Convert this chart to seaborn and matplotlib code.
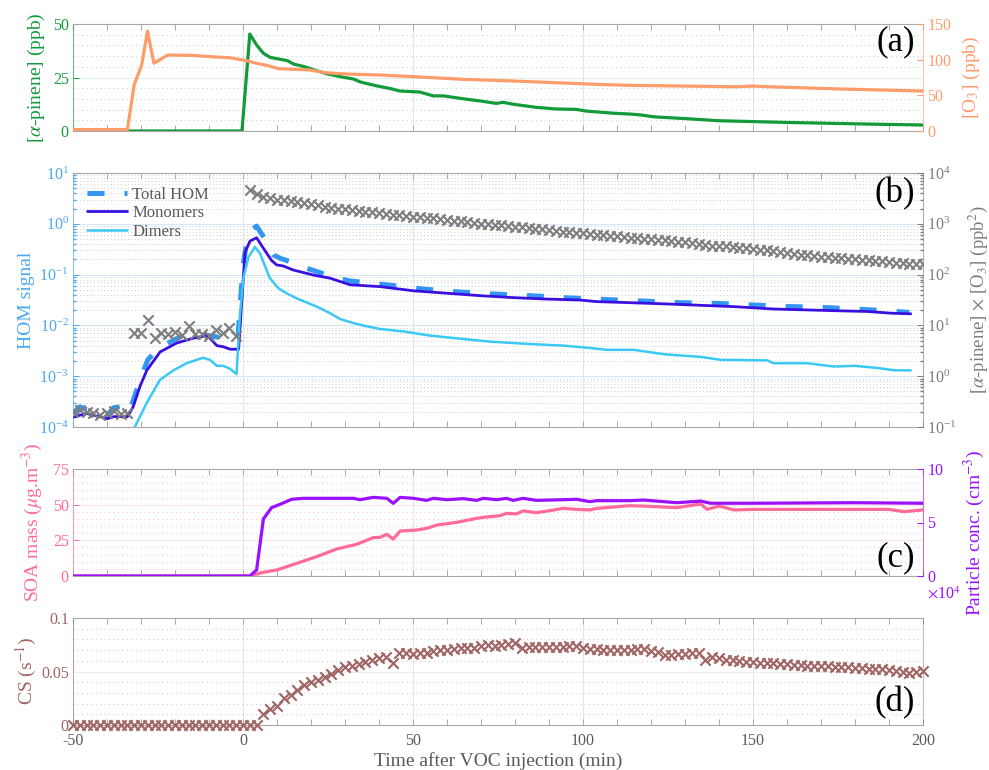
import numpy as np
import matplotlib
matplotlib.use("Agg")
import matplotlib.pyplot as plt
import seaborn as sns
from matplotlib.ticker import MultipleLocator, FixedLocator, LogLocator, NullFormatter

# ---------------- data ----------------
# (a) alpha-pinene and ozone mixing ratios
apinene_t = [-50, -0.3, 2.0, 4, 6, 8, 11, 13, 15, 18, 21, 25, 29.5, 32.5, 34.5, 39, 44, 46,
             52, 56, 59, 65, 70, 74.5, 76.5, 79.5, 86, 92, 98, 101, 109, 114, 117, 121, 130,
             140, 150, 160, 173, 185, 200]
apinene_ppb = [0, 0, 45.3, 40.2, 36.3, 34.4, 33.5, 32.9, 31.2, 30.1, 28.5, 26.6, 25.1, 24.3,
               22.9, 21.2, 19.6, 18.7, 18.2, 16.4, 16.4, 15.0, 14.0, 12.9, 13.4, 12.5, 11.1,
               10.3, 10.1, 9.3, 8.3, 7.9, 7.5, 6.6, 5.8, 4.8, 4.4, 4.0, 3.6, 3.2, 2.8]
o3_t = [-50, -34, -32, -29.8, -28.1, -26.2, -22.1, -15, -9, -4, 1, 4, 7, 10.4, 19.7, 24,
        30.5, 40, 50, 65, 79.4, 94, 104, 114, 130, 145, 150, 155, 175, 200]
o3_ppb = [2, 2, 65, 92.5, 140, 95, 106.5, 106, 104, 102.8, 98.6, 94.9, 92, 87.4, 85.5, 81.8,
          79.9, 78.5, 76.2, 72.4, 70.1, 67.3, 65.4, 64, 63, 62, 63, 62, 59, 56]

# (b) HOM signals
total_t = [-50, -48, -46, -44, -42, -40, -38, -36, -34.5, -32.5, -30.3, -28, -25, -22, -19.5,
           -16.6, -12.7, -8.7, -4.8, -1.5, 0.0, 1.0, 2.5, 4, 6, 8.9, 10.9, 12.8, 18.7, 22.6,
           26, 31.5, 41.3, 53, 62.8, 73.6, 84.4, 95.2, 106, 117.6, 128.5, 139.3, 150, 160.8,
           169.6, 180.4, 191.2, 196]
total_hom = [1.85e-4, 2.5e-4, 2.2e-4, 2.0e-4, 1.8e-4, 1.7e-4, 2.4e-4, 2.5e-4, 1.85e-4, 3.0e-4,
             8.5e-4, 2.1e-3, 3.5e-3, 4.5e-3, 5.5e-3, 6.9e-3, 6.7e-3, 6.1e-3, 5.4e-3, 5.6e-3,
             0.15, 0.4, 0.75, 0.9, 0.56, 0.245, 0.21, 0.19, 0.133, 0.11, 0.09, 0.075, 0.064,
             0.052, 0.046, 0.0415, 0.0385, 0.035, 0.0325, 0.0302, 0.028, 0.0272, 0.0252,
             0.0235, 0.0228, 0.021, 0.019, 0.018]
mono_t = [-50, -48, -46, -44, -42, -40, -38, -36, -34, -32.3, -30.3, -28.3, -24.4, -19.5,
          -14.6, -10.7, -9.7, -7.7, -5.8, -3.8, -1.3, 0.6, 2.1, 4, 6, 8.4, 9.9, 11.8, 14.8,
          20.7, 25.6, 31.5, 40.3, 50.1, 59.9, 69.7, 79.5, 89.3, 99.1, 104, 113.8, 124.8,
          144.4, 156.2, 173.8, 183.6, 190.5, 196.4]
monomers = [1.55e-4, 1.7e-4, 1.85e-4, 1.7e-4, 1.6e-4, 1.45e-4, 1.6e-4, 1.6e-4, 1.6e-4, 2.5e-4,
            6.3e-4, 1.3e-3, 3.0e-3, 4.5e-3, 5.6e-3, 6.3e-3, 5.6e-3, 4.0e-3, 3.8e-3, 3.4e-3,
            3.4e-3, 0.28, 0.46, 0.53, 0.33, 0.19, 0.155, 0.148, 0.123, 0.098, 0.085, 0.063,
            0.058, 0.048, 0.043, 0.0385, 0.0352, 0.033, 0.0316, 0.0294, 0.028, 0.0264, 0.0234,
            0.021, 0.0195, 0.0188, 0.0174, 0.0169]
dim_t = [-33.5, -31.8, -28.3, -24.4, -20.5, -16.6, -12.7, -11.7, -9.7, -7.7, -5.8, -3.8, -1.9,
         -0.9, 0.1, 1.6, 3.5, 5, 7.9, 10.4, 12.8, 15.8, 21.7, 25.6, 28.5, 31.5, 35.4, 40.3,
         47.2, 55, 64.8, 72.6, 84.4, 94.2, 102, 107, 115, 123.9, 134.6, 140.5, 154.2, 156,
         166, 173.8, 180, 186.6, 191.5, 196.4]
dimers = [5e-5, 1e-4, 3e-4, 8.5e-4, 1.3e-3, 1.8e-3, 2.2e-3, 2.3e-3, 2.1e-3, 1.6e-3, 1.6e-3,
          1.4e-3, 1.1e-3, 0.016, 0.085, 0.22, 0.35, 0.26, 0.085, 0.054, 0.043, 0.034, 0.0234,
          0.0174, 0.0134, 0.0116, 0.0099, 0.0085, 0.0076, 0.0063, 0.0054, 0.0048, 0.0043,
          0.0040, 0.0036, 0.0033, 0.0033, 0.0027, 0.0024, 0.0021, 0.00205, 0.0018, 0.0018,
          0.00155, 0.0016, 0.00145, 0.00131, 0.0013]

# 2-min sampled series: [alpha-pinene] x [O3] and condensation sink
sample_t = list(range(-50, 201, 2))
product_ppb2 = ([0.20, 0.22, 0.20, 0.19, 0.17, 0.19, 0.21, 0.18, 0.19,
                 7.2, 7.2, 12.6, 5.6, 7.2, 6.9, 7.5, 6.6, 9.8, 6.8, 6.8, 6.1, 8.1, 7.2, 8.8,
                 6.2, np.nan,
                 4630, 3800, 3420, 3200, 3000, 2880, 2750, 2640, 2520, 2420, 2300, 2180, 2080,
                 2000, 1920, 1850, 1790, 1730, 1670, 1610, 1560, 1510, 1470, 1420, 1390, 1360,
                 1330, 1300, 1240, 1200, 1160, 1110, 1080, 1040, 1010, 980, 955, 930, 900, 880,
                 855, 820, 800, 775, 750, 725, 700, 680, 665, 650, 630, 615, 600, 585, 565, 545,
                 530, 515, 505, 495, 485, 475, 460, 445, 430, 415, 400, 385, 372, 365, 358, 352,
                 340, 330, 318, 310, 300, 290, 280, 268, 255, 245, 238, 232, 227, 222, 217, 210,
                 204, 200, 195, 192, 188, 183, 176, 170, 166, 162, 165, 163])
cs = ([0.0] * 28 +
      [0.0103, 0.0146, 0.018, 0.025, 0.028, 0.0327, 0.0374, 0.0405, 0.042, 0.045, 0.0477,
       0.0514, 0.054, 0.055, 0.0567, 0.059, 0.061, 0.0623, 0.064, 0.0576, 0.067, 0.067,
       0.0665, 0.067, 0.067, 0.069, 0.070, 0.0705, 0.071, 0.0717, 0.0717, 0.072, 0.0735,
       0.0745, 0.0735, 0.0748, 0.0755, 0.0763, 0.0717, 0.0725, 0.073, 0.0732, 0.0732, 0.073,
       0.0732, 0.0735, 0.0738, 0.0717, 0.071, 0.0707, 0.0705, 0.0705, 0.0705, 0.070, 0.070,
       0.0707, 0.0712, 0.0695, 0.0685, 0.0655, 0.0658, 0.066, 0.0665, 0.067, 0.0676, 0.0607,
       0.064, 0.0625, 0.0607, 0.061, 0.0598, 0.059, 0.0585, 0.0582, 0.0578, 0.0575, 0.057,
       0.0566, 0.0562, 0.0558, 0.0555, 0.0551, 0.055, 0.0548, 0.0545, 0.0542, 0.054, 0.0537,
       0.0533, 0.0528, 0.0522, 0.052, 0.0515, 0.0505, 0.0498, 0.049, 0.0495, 0.0508])

# (c) SOA mass and particle number (x 1e4 cm-3)
soa_t = [-50, 2, 6, 9.9, 15.8, 21.7, 27.5, 33.4, 38.3, 40.3, 42.3, 44.2, 46.2, 51, 54, 57,
         62.8, 68.7, 70.7, 75.6, 77.5, 80.4, 82.4, 86.3, 90.3, 94.2, 98.1, 102, 104, 113.8,
         117.8, 127.6, 134.6, 136.5, 140, 144.4, 150, 170, 190, 194.5, 200]
soa_mass = [0, 0, 2.6, 4.2, 8.9, 13.6, 18.9, 22.2, 26.9, 27.1, 29.2, 25.9, 31.5, 32.2, 33.4,
            35.7, 37.6, 40.4, 41.1, 42.3, 43.9, 43.5, 45.6, 44.4, 45.8, 47.4, 46.7, 46.3, 47.4,
            49.3, 49.0, 47.9, 50.5, 46.7, 49.0, 46.3, 46.7, 46.7, 46.7, 45.1, 46.3]
part_t = [-50, 2, 4, 6, 8.4, 10.9, 14.3, 17.7, 25.6, 32.5, 34.4, 38.3, 42.3, 44.2, 46.2, 50.1,
          54, 56, 60, 64.8, 68.7, 70.7, 74.6, 77.5, 79.5, 82.4, 86.3, 94.2, 98.1, 102, 104,
          113.8, 117.8, 127.6, 134.6, 137.5, 150, 180, 200]
part_conc = [0, 0, 0.56, 5.33, 6.39, 6.7, 7.17, 7.26, 7.26, 7.26, 7.13, 7.35, 7.26, 6.79, 7.35,
             7.26, 7.07, 7.26, 7.13, 7.23, 7.07, 7.26, 7.13, 7.26, 7.07, 7.26, 7.07, 7.13,
             7.17, 6.95, 7.04, 7.04, 7.1, 6.85, 7.0, 6.8, 6.8, 6.85, 6.8]

x_ticks = [-50, 0, 50, 100, 150, 200]

# ---------------- style ----------------
sns.set_theme(style="white")
plt.rcParams["font.family"] = ["Liberation Serif", "DejaVu Serif"]
plt.rcParams["mathtext.fontset"] = "stix"
plt.rcParams["axes.unicode_minus"] = False

C_GREEN = "#139a3a"
C_ORANGE = "#ff9c6b"
C_TOTAL = "#3396f2"
C_MONO = "#3a10e0"
C_DIM = "#3cc8f5"
C_HOMLAB = "#4aa8f5"
C_GREY = "#7d7d7d"
C_PINK = "#ff6b98"
C_PURPLE = "#9a10ff"
C_BROWN = "#a06464"
C_FRAME = "#a8a8a8"
C_TXT = "#5a5a5a"

TICK_FS = 11.5
LAB_FS = 14

fig = plt.figure(figsize=(9.89, 7.70), dpi=100)
L, W = 73 / 989, 850 / 989


def make_axes(top_px, bot_px):
    return fig.add_axes([L, 1 - bot_px / 770, W, (bot_px - top_px) / 770])


def style_pair(ax, ax2, lcol, rcol, last=False):
    ax.set_xlim(-50, 200)
    ax.xaxis.set_major_locator(FixedLocator(x_ticks))
    ax.xaxis.set_minor_locator(MultipleLocator(10))
    ax.tick_params(axis="x", which="both", direction="in", top=True, bottom=True,
                   length=4, width=0.7, color=C_FRAME, labelbottom=last,
                   labelsize=TICK_FS, labelcolor=C_TXT, pad=6)
    ax.tick_params(axis="y", which="major", direction="in", length=4, width=0.7,
                   color=lcol, labelcolor=lcol, labelsize=TICK_FS, pad=3)
    for s in ("top", "bottom"):
        ax.spines[s].set_color(C_FRAME)
        ax.spines[s].set_linewidth(0.8)
    ax.spines["left"].set_color(lcol)
    ax.spines["left"].set_alpha(0.55)
    ax.spines["left"].set_linewidth(0.8)
    ax.spines["right"].set_visible(False)
    ax.xaxis.grid(True, which="major", color="#e4e4e4", lw=0.7)
    if ax2 is not None:
        for s in ("top", "bottom", "left"):
            ax2.spines[s].set_visible(False)
        ax2.spines["right"].set_color(rcol)
        ax2.spines["right"].set_alpha(0.6)
        ax2.spines["right"].set_linewidth(0.8)
        ax2.tick_params(axis="y", which="major", direction="in", length=4, width=0.7,
                        color=rcol, labelcolor=rcol, labelsize=TICK_FS, pad=3)
        ax2.grid(False)
    else:
        ax.spines["right"].set_visible(True)
        ax.spines["right"].set_color(lcol)
        ax.spines["right"].set_alpha(0.45)
        ax.spines["right"].set_linewidth(0.8)


def panel_letter(ax, txt, y, va):
    ax.text(0.991, y, txt, transform=ax.transAxes, ha="right", va=va,
            fontsize=25, color="black", zorder=10)


# ---------------- (a) ----------------
axa = make_axes(24, 131)
axa2 = axa.twinx()
sns.lineplot(x=apinene_t, y=apinene_ppb, ax=axa, color=C_GREEN, lw=2.3, sort=False)
sns.lineplot(x=o3_t, y=o3_ppb, ax=axa2, color=C_ORANGE, lw=2.3, sort=False)
axa.set_ylim(0, 50)
axa2.set_ylim(0, 150)
axa.set_yticks([0, 25, 50])
axa2.set_yticks([0, 50, 100, 150])
axa.yaxis.set_minor_locator(MultipleLocator(5))
axa.yaxis.grid(True, which="major", color="#dceee2", lw=0.7)
axa.yaxis.grid(True, which="minor", color="#b9dcc6", lw=0.8, ls=(0, (1, 3)))
axa.tick_params(axis="y", which="minor", length=0)
style_pair(axa, axa2, C_GREEN, C_ORANGE)
axa.set_xlabel("")
axa.set_ylabel(r"[$\alpha$-pinene] (ppb)", color=C_GREEN, fontsize=LAB_FS)
axa2.set_ylabel(r"[O$_3$] (ppb)", color=C_ORANGE, fontsize=LAB_FS)
axa.yaxis.set_label_coords(-0.031, 0.5)
axa2.yaxis.set_label_coords(1.045, 0.5)
panel_letter(axa, "(a)", 0.99, "top")

# ---------------- (b) ----------------
axb = make_axes(173, 427)
axb2 = axb.twinx()
axb.set_yscale("log")
axb2.set_yscale("log")
sns.lineplot(x=total_t, y=total_hom, ax=axb, color=C_TOTAL, lw=3.6, sort=False,
             label="Total HOM")
axb.lines[-1].set_dashes((3.4, 4.0))
sns.lineplot(x=mono_t, y=monomers, ax=axb, color=C_MONO, lw=2.0, sort=False,
             label="Monomers")
sns.lineplot(x=dim_t, y=dimers, ax=axb, color=C_DIM, lw=1.8, sort=False, label="Dimers")
sns.scatterplot(x=sample_t, y=product_ppb2, ax=axb2, marker="x", color=C_GREY, s=55,
                linewidth=1.5, zorder=3)
axb.set_ylim(1e-4, 1e1)
axb2.set_ylim(1e-1, 1e4)
for a in (axb, axb2):
    a.yaxis.set_major_locator(LogLocator(base=10, numticks=12))
    a.yaxis.set_minor_locator(LogLocator(base=10, subs=np.arange(2, 10), numticks=12))
    a.yaxis.set_minor_formatter(NullFormatter())
axb.yaxis.grid(True, which="major", color="#d6e6f7", lw=0.8)
axb.yaxis.grid(True, which="minor", color="#c9ccd2", lw=0.7, ls=(0, (1, 2.5)))
style_pair(axb, axb2, C_HOMLAB, C_GREY)
axb.tick_params(axis="y", which="minor", direction="in", length=2, color=C_HOMLAB)
axb2.tick_params(axis="y", which="minor", direction="in", length=2, color=C_GREY)
axb.set_xlabel("")
axb.set_ylabel("HOM signal", color=C_HOMLAB, fontsize=LAB_FS)
axb2.set_ylabel(r"[$\alpha$-pinene] $\times$ [O$_3$] (ppb$^2$)", color=C_GREY,
                fontsize=13.5)
axb.yaxis.set_label_coords(-0.045, 0.5)
axb2.yaxis.set_label_coords(1.051, 0.5)
leg = axb.legend(loc="upper left", bbox_to_anchor=(0.005, 0.985), frameon=False,
                 fontsize=12, handlelength=2.4, handletextpad=0.3, labelspacing=0.15,
                 borderaxespad=0.2)
for t in leg.get_texts():
    t.set_color(C_TXT)
panel_letter(axb, "(b)", 0.985, "top")

# ---------------- (c) ----------------
axc = make_axes(469, 576)
axc2 = axc.twinx()
sns.lineplot(x=soa_t, y=soa_mass, ax=axc, color=C_PINK, lw=2.3, sort=False)
sns.lineplot(x=part_t, y=part_conc, ax=axc2, color=C_PURPLE, lw=2.3, sort=False)
axc.set_ylim(0, 75)
axc2.set_ylim(0, 10)
axc.set_yticks([0, 25, 50, 75])
axc2.set_yticks([0, 5, 10])
axc.yaxis.set_minor_locator(MultipleLocator(5))
axc.yaxis.grid(True, which="major", color="#fbe3ea", lw=0.7)
axc.yaxis.grid(True, which="minor", color="#f7c6d4", lw=0.8, ls=(0, (1, 3)))
axc.tick_params(axis="y", which="minor", length=0)
style_pair(axc, axc2, C_PINK, C_PURPLE)
axc.set_xlabel("")
axc.set_ylabel(r"SOA mass ($\mu$g.m$^{-3}$)", color=C_PINK, fontsize=LAB_FS)
axc2.set_ylabel(r"Particle conc. (cm$^{-3}$)", color=C_PURPLE, fontsize=LAB_FS)
axc.yaxis.set_label_coords(-0.033, 0.5)
axc2.yaxis.set_label_coords(1.046, 0.40)
axc2.text(1.005, -0.1, r"$\times$10$^4$", transform=axc2.transAxes, ha="left", va="top",
          fontsize=TICK_FS, color=C_PURPLE)
panel_letter(axc, "(c)", 0.02, "bottom")

# ---------------- (d) ----------------
axd = make_axes(618, 725)
sns.scatterplot(x=sample_t, y=cs, ax=axd, marker="x", color=C_BROWN, s=55, linewidth=1.5,
                zorder=3, clip_on=False)
axd.set_ylim(0, 0.1)
axd.set_yticks([0, 0.05, 0.1])
axd.set_yticklabels(["0", "0.05", "0.1"])
axd.yaxis.set_minor_locator(MultipleLocator(0.01))
axd.yaxis.grid(True, which="major", color="#ececec", lw=0.7)
axd.yaxis.grid(True, which="minor", color="#cfcfcf", lw=0.8, ls=(0, (1, 3)))
axd.tick_params(axis="y", which="minor", length=0)
style_pair(axd, None, C_BROWN, None, last=True)
axd.set_ylabel(r"CS (s$^{-1}$)", color=C_BROWN, fontsize=LAB_FS)
axd.yaxis.set_label_coords(-0.040, 0.5)
axd.set_xlabel("Time after VOC injection (min)", color=C_TXT, fontsize=LAB_FS, labelpad=2)
panel_letter(axd, "(d)", 0.05, "bottom")

fig.savefig("out.png", dpi=100)
